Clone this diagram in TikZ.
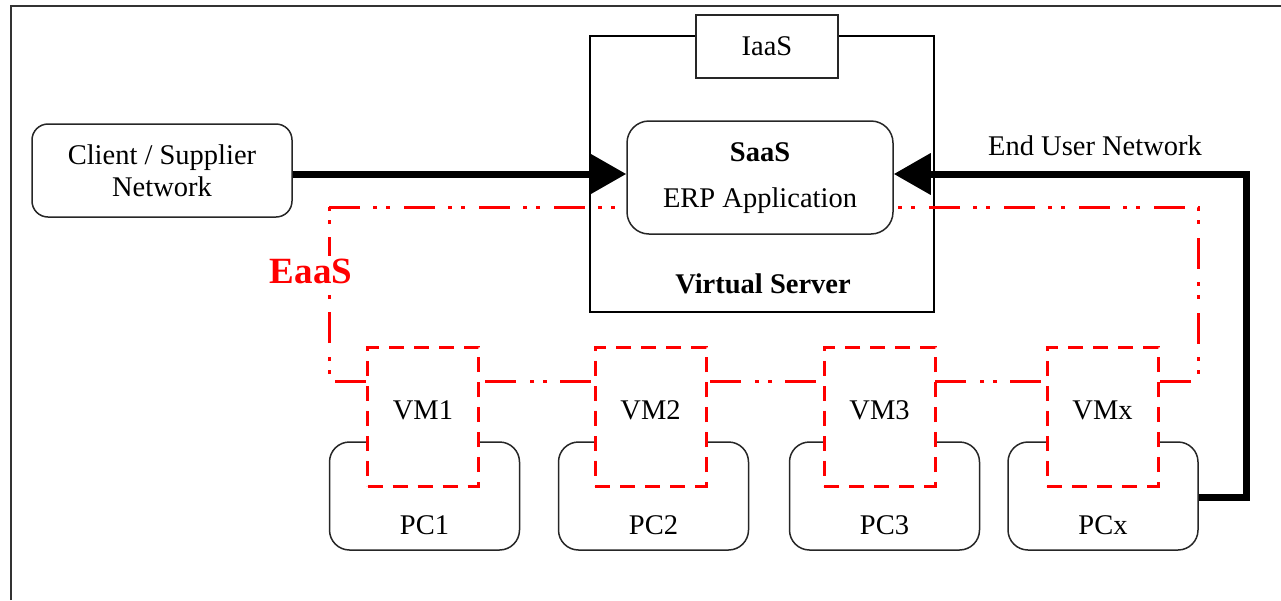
\documentclass[tikz,border=0pt]{standalone}
\usepackage{fontspec}
\setmainfont{Liberation Serif}
\usetikzlibrary{arrows.meta}
\definecolor{eaasred}{RGB}{255,0,0}
\tikzset{
  thinbox/.style={draw=black!85, line width=1.5pt, fill=white, inner sep=0pt},
  roundbox/.style={thinbox, rounded corners=18pt},
  vmbox/.style={draw=eaasred, line width=3pt, dash pattern=on 15pt off 10pt, fill=white, inner sep=0pt},
  eaasline/.style={draw=eaasred, line width=3pt, dash pattern=on 31pt off 13pt on 4pt off 9pt on 4pt off 14pt},
  netlink/.style={line width=7pt, -{Triangle[length=37pt,width=40pt]}},
  lbl/.style={font=\fontsize{28.5}{32}\selectfont, align=center, inner sep=0pt},
}
\begin{document}
\begin{tikzpicture}[x=1pt, y=-1pt]
\useasboundingbox (0,0) rectangle (1281,600);
% page frame (left and top edges)
\draw[line width=2.5pt, draw=black!80] (11,600) -- (11,6) -- (1281,6);

% virtual server with its IaaS tab
\draw[line width=1.5pt] (590,36) rectangle (934,312);
\node[thinbox, minimum width=142pt, minimum height=63pt] (iaas) at (767,46.5) {};
\node[lbl] at (iaas) {IaaS};
\node[lbl, font=\fontsize{28.5}{32}\selectfont\bfseries] (vs) at (763,284) {Virtual Server};

% EaaS loop
\coordinate (e1) at (329,207);
\coordinate (e2) at (1198,207);
\coordinate (e3) at (1198,381);
\coordinate (e4) at (329,381);
\draw[eaasline] (e1) -- (e2) -- (e3) -- (e4) -- cycle;
\node[lbl, text=eaasred, fill=white, inner sep=3pt, font=\fontsize{37}{40}\selectfont\bfseries] (eaas) at (311,271) {EaaS};

% SaaS application
\node[roundbox, rounded corners=22pt, minimum width=266pt, minimum height=113pt] (saas) at (760,177.5) {};
\node[lbl, font=\fontsize{28.5}{32}\selectfont\bfseries] at (760,152) {SaaS};
\node[lbl] at (760,201) {ERP Application};

% client / supplier network
\node[roundbox, rounded corners=16pt, minimum width=260pt, minimum height=93pt] (client) at (162,170.5) {};
\node[lbl] at (162,171) {Client / Supplier\\Network};

% PCs
\foreach \n/\cx in {1/424.5, 2/653.5, 3/884.5, x/1103} {
  \node[roundbox, rounded corners=20pt, minimum width=190pt, minimum height=108pt] (pc\n) at (\cx,496) {};
  \node[lbl] at (\cx,525) {PC\n};
}
% virtual machines on the PCs
\foreach \n/\cx in {1/423, 2/650.5, 3/879.5, x/1102.5} {
  \node[vmbox, minimum width=111pt, minimum height=139pt] (vm\n) at (\cx,416.5) {};
  \node[lbl] at (\cx,410) {VM\n};
}

% network links
\coordinate (cl) at (0,174);
\draw[netlink] (client.east |- cl) -- (saas.west |- cl);
\coordinate (eu1) at (1246,497);
\coordinate (eu2) at (1246,174);
\draw[netlink, line join=miter] (pcx.east |- eu1) -- (eu1) -- (eu2) -- (saas.east |- eu2);
\node[lbl] (eun) at (1095,146) {End User Network};
\end{tikzpicture}
\end{document}
